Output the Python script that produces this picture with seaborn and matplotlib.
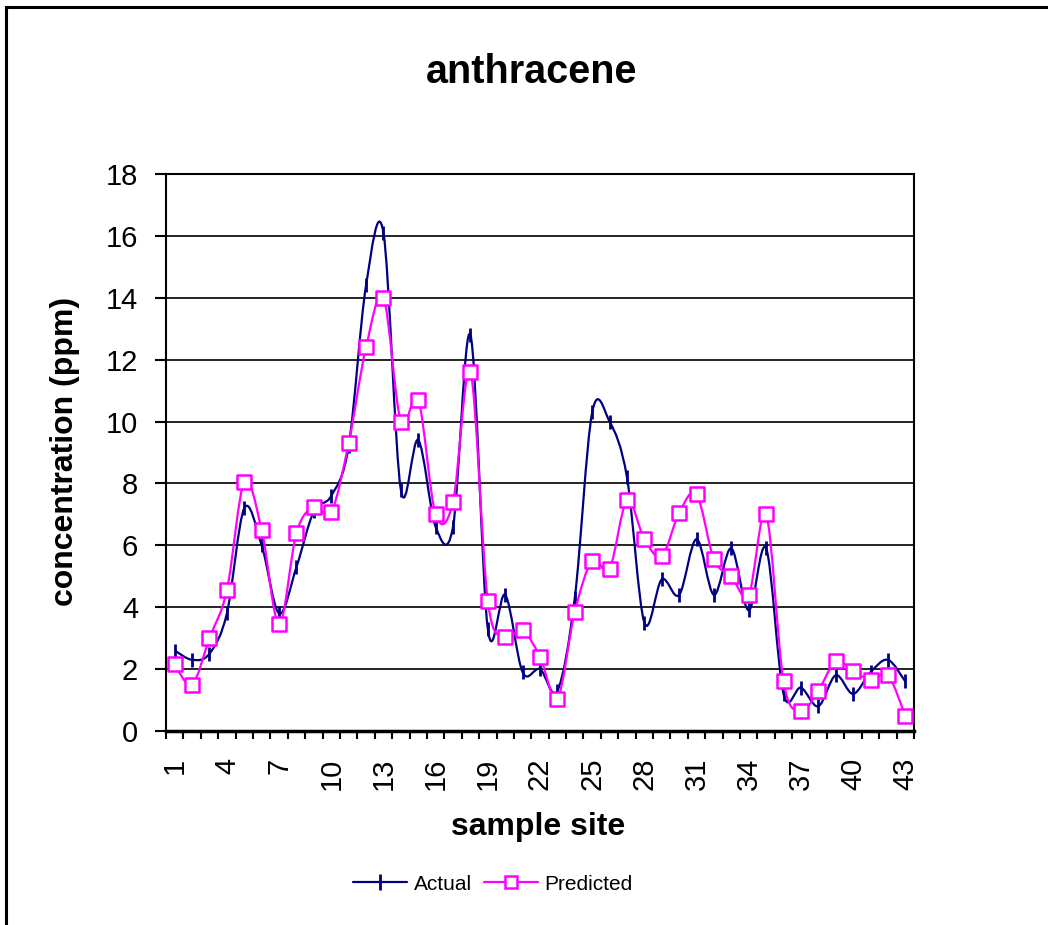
import numpy as np
import pandas as pd
import matplotlib
matplotlib.use('Agg')
import matplotlib.pyplot as plt
import seaborn as sns
from matplotlib.path import Path
from matplotlib.patches import PathPatch, Rectangle
from matplotlib.lines import Line2D

sites = list(range(1, 44))
actual = [2.6, 2.3, 2.5, 3.8, 7.2, 6.0, 3.8, 5.3, 7.1, 7.6,
          9.2, 14.4, 16.1, 7.8, 9.4, 6.6, 6.6, 12.8, 3.3, 4.4,
          1.9, 2.0, 1.3, 4.3, 10.3, 10.0, 8.2, 3.5, 4.9, 4.4,
          6.2, 4.4, 5.9, 3.9, 5.9, 1.2, 1.4, 0.8, 1.8, 1.2,
          1.9, 2.3, 1.6]
predicted = [2.15, 1.5, 3.0, 4.55, 8.05, 6.5, 3.45, 6.4, 7.25, 7.08,
             9.3, 12.4, 14.0, 10.0, 10.7, 7.0, 7.4, 11.6, 4.2, 3.05,
             3.25, 2.4, 1.05, 3.85, 5.5, 5.25, 7.45, 6.2, 5.65, 7.05,
             7.65, 5.55, 5.0, 4.4, 7.0, 1.6, 0.65, 1.3, 2.25, 1.95,
             1.65, 1.8, 0.5]

df = pd.DataFrame({'site': sites, 'Actual': actual, 'Predicted': predicted})

sns.set_style("white")
plt.rcParams['font.family'] = ['Liberation Sans', 'DejaVu Sans']
plt.rcParams['text.color'] = 'black'
plt.rcParams['xtick.color'] = 'black'
plt.rcParams['ytick.color'] = 'black'
plt.rcParams['axes.labelcolor'] = 'black'

navy = '#000080'
magenta = '#FF00FF'


def smooth_path(x, y):
    # excel style smoothed line: bezier through the points
    n = len(x)
    verts = [(x[0], y[0])]
    codes = [Path.MOVETO]
    for i in range(n - 1):
        a = i - 1 if i > 0 else i
        b = i + 2 if i + 2 < n else i + 1
        c1 = (x[i] + (x[i + 1] - x[a]) / 6, y[i] + (y[i + 1] - y[a]) / 6)
        c2 = (x[i + 1] - (x[b] - x[i]) / 6, y[i + 1] - (y[b] - y[i]) / 6)
        verts += [c1, c2, (x[i + 1], y[i + 1])]
        codes += [Path.CURVE4] * 3
    return Path(verts, codes)


fig = plt.figure(figsize=(10.48, 9.25), dpi=100)
ax = fig.add_axes([166 / 1048, 1 - 731 / 925, (914 - 166) / 1048, (731 - 174) / 925])

ax.add_patch(PathPatch(smooth_path(df['site'].values, df['Actual'].values),
                       fill=False, edgecolor=navy, lw=1.6, zorder=3))
sns.scatterplot(data=df, x='site', y='Actual', marker='|', s=110, color=navy,
                linewidth=2, ax=ax, zorder=4, legend=False)
ax.add_patch(PathPatch(smooth_path(df['site'].values, df['Predicted'].values),
                       fill=False, edgecolor=magenta, lw=1.6, zorder=5))
sns.scatterplot(data=df, x='site', y='Predicted', marker='s', s=95,
                facecolor='white', edgecolor=magenta, linewidth=1.8, ax=ax,
                zorder=6, legend=False)

ax.set_xlim(0.5, 43.5)
ax.set_ylim(0, 18)
ax.set_yticks(range(0, 19, 2))
ax.yaxis.grid(True, color='black', lw=1.2)
ax.set_axisbelow(True)
ax.tick_params(axis='y', direction='out', length=8, width=1.5, labelsize=21, pad=12, left=True)

ax.set_xticks(np.arange(0.5, 44, 1))
ax.set_xticklabels([])
ax.tick_params(axis='x', which='major', direction='out', length=6, width=1.5, bottom=True)
ax.set_xticks(sites[::3], minor=True)
ax.set_xticklabels([str(s) for s in sites[::3]], minor=True, rotation=90)
ax.tick_params(axis='x', which='minor', length=0, labelsize=21, pad=19)

for side in ['left', 'right', 'top']:
    ax.spines[side].set_color('black')
    ax.spines[side].set_linewidth(1.5)
ax.spines['bottom'].set_color('black')
ax.spines['bottom'].set_linewidth(2.5)
ax.set_xlabel('')
ax.set_ylabel('')

fig.text(532 / 1048, 1 - 72 / 925, 'anthracene', ha='center', va='center',
         fontsize=28.5, fontweight='bold')
fig.text(538 / 1048, 1 - 827 / 925, 'sample site', ha='center', va='center',
         fontsize=23, fontweight='bold')
fig.text(65 / 1048, 1 - 451 / 925, 'concentration (ppm)', ha='center', va='center',
         rotation=90, fontsize=23, fontweight='bold')

handles = [
    Line2D([], [], color=navy, lw=1.6, marker='|', markersize=11, markeredgewidth=2),
    Line2D([], [], color=magenta, lw=1.6, marker='s', markersize=9,
           markerfacecolor='white', markeredgecolor=magenta, markeredgewidth=1.8),
]
fig.legend(handles, ['Actual', 'Predicted'], loc='center', ncol=2,
           bbox_to_anchor=(493 / 1048, 1 - 884 / 925), frameon=False,
           fontsize=15, handlelength=2.6, handletextpad=0.3, columnspacing=0.6)

fig.add_artist(Rectangle((6 / 1048, -0.1), 1.2, 1.1 - 7 / 925, transform=fig.transFigure,
                         fill=False, edgecolor='black', lw=2.2))

fig.savefig('out.png', dpi=100)
